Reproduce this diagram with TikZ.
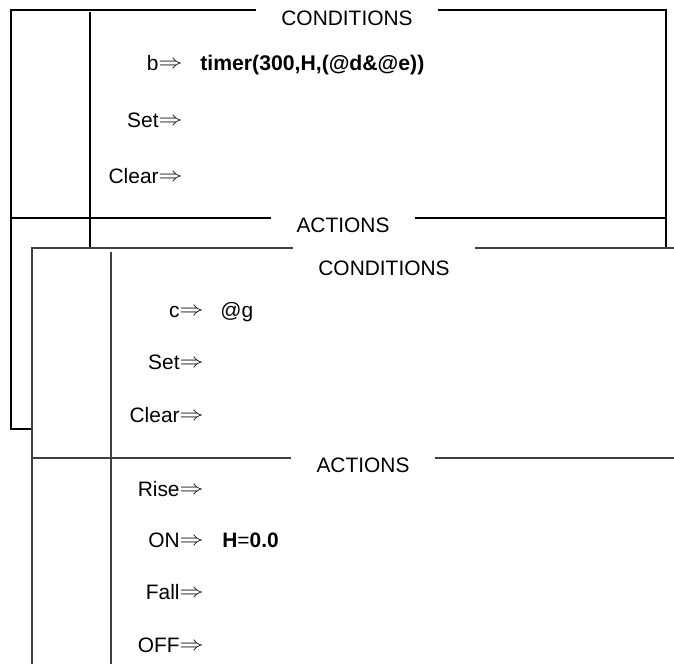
\documentclass[tikz,border=0pt]{standalone}
\usepackage{fontspec}
\setmainfont{Liberation Sans}
\newcommand{\impl}{\raisebox{0.09em}{\scalebox{1.2}[1]{$\Rightarrow$}}}
\begin{document}
\begin{tikzpicture}[x=0.5pt,y=-0.5pt,
  every node/.style={font=\fontsize{10.45}{12.5}\selectfont, inner sep=0pt},
  title/.style={inner xsep=12.5pt, inner ysep=0pt},
  key/.style={anchor=base east},
  val/.style={anchor=base west},
  frameA/.style={line width=0.55pt, black},
  frameB/.style={line width=0.7pt, black!75}]
\useasboundingbox (0,0) rectangle (674,664);

% ---------- outer block ----------
\coordinate (A-tl) at (11,10);
\coordinate (A-tr) at (666,10);
\coordinate (A-ml) at (11,218);
\coordinate (A-mr) at (666,218);
\coordinate (A-br) at (666,249);
\coordinate (A-bl) at (11,429);
\coordinate (A-blx) at (32,429);
\coordinate (A-it) at (90,12);
\coordinate (A-ib) at (90,248);

\node[title] (A-cond) at (347,18) {CONDITIONS};
\node[title] (A-act) at (343,225) {ACTIONS};

\draw[frameA] (A-cond.west |- A-tl) -- (A-tl) -- (A-bl) -- (A-blx);
\draw[frameA] (A-cond.east |- A-tr) -- (A-tr) -- (A-br);
\draw[frameA] (A-ml) -- (A-ml -| A-act.west);
\draw[frameA] (A-act.east |- A-mr) -- (A-mr);
\draw[frameA] (A-it) -- (A-ib);

\node[key] (A-k1) at (183,70.5) {b\impl};
\node[val, font=\fontsize{10.6}{12.5}\selectfont\bfseries] (A-v1) at (200,70.5) {timer(300,H,(@d\&@e))};
\node[key] (A-k2) at (183,127.5) {Set\impl};
\node[key] (A-k3) at (183,183.5) {Clear\impl};

% ---------- inner block ----------
\coordinate (B-tl) at (32,248);
\coordinate (B-tr) at (674,248);
\coordinate (B-bl) at (32,664);
\coordinate (B-ml) at (32,458);
\coordinate (B-mr) at (674,458);
\coordinate (B-it) at (111,252);
\coordinate (B-ib) at (111,664);

\node[title] (B-cond) at (384,268) {CONDITIONS};
\node[title] (B-act) at (363,465) {ACTIONS};

\draw[frameB] (B-cond.west |- B-tl) -- (B-tl) -- (B-bl);
\draw[frameB] (B-cond.east |- B-tr) -- (B-tr);
\draw[frameB] (B-ml) -- (B-ml -| B-act.west);
\draw[frameB] (B-act.east |- B-mr) -- (B-mr);
\draw[frameB] (B-it) -- (B-ib);

\node[key] (B-k1) at (204,317) {c\impl};
\node[val] (B-v1) at (220,317) {@g};
\node[key] (B-k2) at (204,369.5) {Set\impl};
\node[key] (B-k3) at (204,422.5) {Clear\impl};
\node[key] (B-k4) at (204,496.5) {Rise\impl};
\node[key] (B-k5) at (204,547.5) {ON\impl};
\node[val] (B-v5) at (222,547.5) {\textbf{H}=\textbf{0.0}};
\node[key] (B-k6) at (204,599.5) {Fall\impl};
\node[key] (B-k7) at (204,652.5) {OFF\impl};
\end{tikzpicture}
\end{document}
